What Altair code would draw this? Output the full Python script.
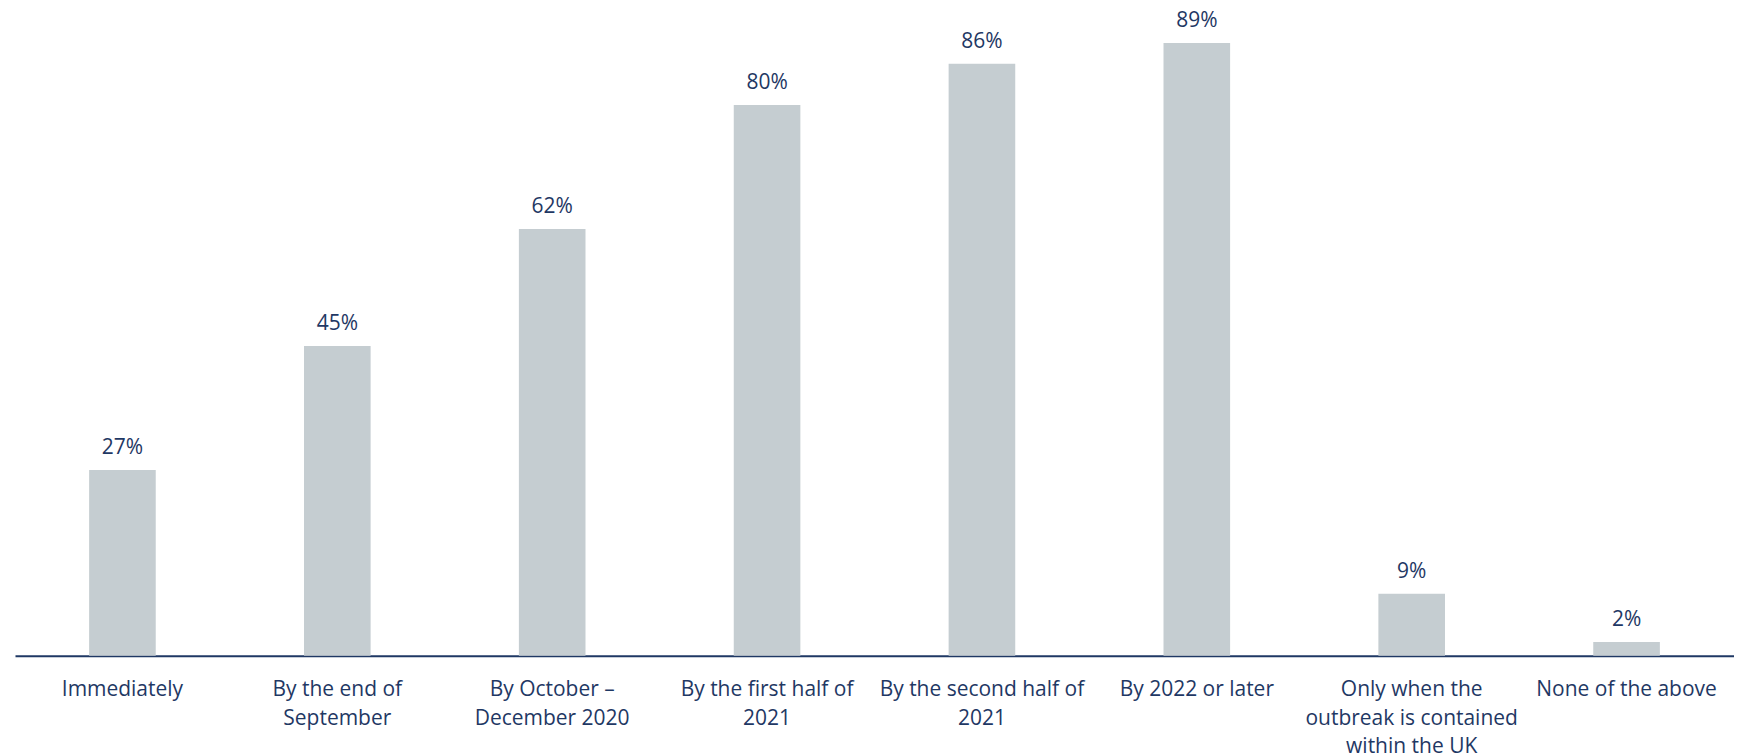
import altair as alt
import pandas as pd

categories = [
    "Immediately",
    "By the end of\nSeptember",
    "By October –\nDecember 2020",
    "By the first half of\n2021",
    "By the second half of\n2021",
    "By 2022 or later",
    "Only when the\noutbreak is contained\nwithin the UK",
    "None of the above",
]
values = [27, 45, 62, 80, 86, 89, 9, 2]
value_labels = ["27%", "45%", "62%", "80%", "86%", "89%", "9%", "2%"]

df = pd.DataFrame({"cat": categories, "val": values, "lab": value_labels})

NAVY = "#1F3864"
BAR = "#C5CDD1"
FONT = "Open Sans"

x = alt.X(
    "cat:N",
    sort=None,
    scale=alt.Scale(paddingInner=0.69, paddingOuter=0.345),
    axis=alt.Axis(
        title=None,
        labelAngle=0,
        labelExpr="split(datum.label, '\\n')",
        labelFont=FONT,
        labelFontSize=21,
        labelColor=NAVY,
        labelLineHeight=28.5,
        labelBaseline="alphabetic",
        labelPadding=40,
        ticks=False,
        tickSize=0,
        domainColor=NAVY,
        domainWidth=2,
        labelLimit=400,
        grid=False,
    ),
)
y = alt.Y(
    "val:Q",
    scale=alt.Scale(domain=[0, 92.6], nice=False),
    axis=None,
)

bars = alt.Chart(df).mark_bar(color=BAR).encode(x=x, y=y)
text = alt.Chart(df).mark_text(
    font=FONT, fontSize=21, color=NAVY, baseline="alphabetic", dy=-16
).encode(x=alt.X("cat:N", sort=None), y="val:Q", text="lab:N")

chart = (
    alt.layer(bars, text)
    .properties(
        width=1720,
        height=638,
        autosize=alt.AutoSizeParams(type="none"),
        padding={"left": 7, "top": 10, "right": 0, "bottom": 100},
    )
    .configure_view(stroke=None)
)

chart.save("out.html", embed_options={"renderer": "svg", "actions": False})
